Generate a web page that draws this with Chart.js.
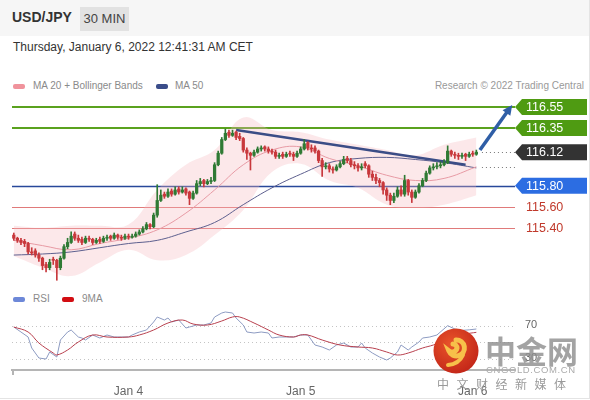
<!DOCTYPE html>
<html>
<head>
<meta charset="utf-8">
<script src="https://cdn.jsdelivr.net/npm/chart.js@4/dist/chart.umd.min.js"></script>
<style>
  html, body { margin: 0; padding: 0; background: #fff; }
  body { font-family: "Liberation Sans", Arial, sans-serif; }
  #frame { position: relative; width: 589px; height: 398px; border-right: 1px solid #e4e4e4; border-bottom: 1px solid #e4e4e4; overflow: hidden; }
  #head { position: absolute; left: 0; top: 0; width: 589px; height: 36px; background: #f6f6f6; }
  .abs { position: absolute; white-space: nowrap; }
  #pair { left: 12px; top: 9px; font-weight: bold; font-size: 14px; color: #333; }
  #tf { left: 80px; top: 7px; width: 49px; height: 24px; line-height: 24px; text-align: center; background: #e2e2e2; font-size: 13px; color: #444; }
  #stamp { left: 13px; top: 40px; font-size: 12px; color: #333; }
  .leg { font-size: 10px; color: #8a8a8a; }
  .sw { position: absolute; width: 12px; height: 5px; border-radius: 2px; }
  canvas { position: absolute; left: 0; }
  #mark { position: absolute; left: 433px; top: 328px; }
</style>
</head>
<body>
<div id="frame">
  <div id="head"></div>
  <div id="pair" class="abs">USD/JPY</div>
  <div id="tf" class="abs">30 MIN</div>
  <div id="stamp" class="abs">Thursday, January 6, 2022 12:41:31 AM CET</div>

  <div class="sw" style="left:13px;top:84px;background:#f0939c"></div>
  <div class="abs leg" style="left:33px;top:80px">MA 20 + Bollinger Bands</div>
  <div class="sw" style="left:156px;top:84px;background:#3a4d8a"></div>
  <div class="abs leg" style="left:175px;top:80px">MA 50</div>
  <div class="abs leg" style="right:5px;top:80px;color:#999">Research © 2022 Trading Central</div>

  <canvas id="main" width="590" height="190" style="top:95px"></canvas>

  <div class="sw" style="left:13px;top:297px;background:#6d88d8"></div>
  <div class="abs leg" style="left:33px;top:293px">RSI</div>
  <div class="sw" style="left:62px;top:297px;background:#d20d12"></div>
  <div class="abs leg" style="left:82px;top:293px">9MA</div>

  <canvas id="rsi" width="590" height="98" style="top:300px"></canvas>

  <svg id="mark" width="46" height="46" viewBox="0 0 46 46">
    <defs>
      <radialGradient id="g" cx="40%" cy="35%" r="70%">
        <stop offset="0" stop-color="#e9542a"/>
        <stop offset="1" stop-color="#c22518"/>
      </radialGradient>
    </defs>
    <circle cx="23" cy="23" r="22.5" fill="url(#g)"/>
    <path d="M23 12 a8 8 0 1 1 -7 11 a5 5 0 0 0 8 -3 a4 4 0 0 0 -4 -4" fill="none" stroke="#f7c04a" stroke-width="5" stroke-linecap="round"/>
    <path d="M30 27 q-4 9 -15 10" stroke="#f7c04a" stroke-width="4" fill="none" stroke-linecap="round"/>
  </svg>
  <div class="abs" style="left:485px;top:327px;font-family:'Noto Sans CJK SC';font-weight:bold;font-size:31px;color:rgba(140,140,140,0.8)">中金网</div>
  <div class="abs" style="left:486px;top:364px;font-size:9.5px;letter-spacing:0.6px;color:#aaa">CNGOLD.COM.CN</div>
  <div class="abs" style="left:437px;top:375px;font-family:'Noto Sans CJK SC';font-size:12px;letter-spacing:7.5px;color:#9a9a9a">中文财经新媒体</div>
</div>

<script>
// ===== DATA =====

// 30-min candles, Jan 3 08:00 .. Jan 6 00:30
const openPrices = [
  115.33, 115.30, 115.28, 115.27, 115.25, 115.17, 115.18, 115.14, 115.11, 115.05,
  115.02, 115.10, 115.09, 115.02, 115.11, 115.22, 115.26, 115.34, 115.30, 115.29,
  115.26, 115.30, 115.29, 115.26, 115.29, 115.27, 115.30, 115.32, 115.30, 115.33,
  115.31, 115.30, 115.32, 115.31, 115.32, 115.34, 115.36, 115.39, 115.43, 115.41,
  115.52, 115.66, 115.72, 115.70, 115.75, 115.72, 115.77, 115.74, 115.77, 115.74,
  115.68, 115.73, 115.82, 115.85, 115.82, 115.84, 115.85, 116.00, 116.11, 116.24,
  116.31, 116.28, 116.31, 116.27, 116.25, 116.14, 116.11, 116.09, 116.12, 116.15,
  116.17, 116.15, 116.13, 116.12, 116.08, 116.10, 116.08, 116.11, 116.10, 116.08,
  116.11, 116.15, 116.21, 116.16, 116.16, 116.13, 116.04, 115.98, 115.99, 115.96,
  115.95, 115.98, 116.01, 116.06, 116.04, 116.00, 115.99, 115.97, 116.01, 115.99,
  115.91, 115.88, 115.85, 115.83, 115.76, 115.71, 115.66, 115.70, 115.76, 115.72,
  115.85, 115.74, 115.69, 115.74, 115.80, 115.85, 115.92, 115.97, 115.98, 115.99,
  116.00, 116.02, 116.13, 116.10, 116.09, 116.08, 116.10, 116.08, 116.11, 116.10
];
const highPrices = [
  115.35, 115.31, 115.30, 115.29, 115.26, 115.21, 115.20, 115.16, 115.12, 115.07,
  115.10, 115.12, 115.10, 115.13, 115.24, 115.30, 115.36, 115.36, 115.33, 115.31,
  115.32, 115.32, 115.30, 115.30, 115.31, 115.32, 115.33, 115.33, 115.35, 115.34,
  115.33, 115.34, 115.34, 115.34, 115.36, 115.38, 115.41, 115.45, 115.44, 115.54,
  115.81, 115.76, 115.74, 115.77, 115.77, 115.79, 115.79, 115.79, 115.78, 115.75,
  115.75, 115.85, 115.87, 115.86, 115.86, 115.88, 116.02, 116.13, 116.26, 116.34,
  116.33, 116.33, 116.32, 116.30, 116.26, 116.16, 116.12, 116.14, 116.17, 116.18,
  116.18, 116.17, 116.15, 116.14, 116.11, 116.12, 116.12, 116.13, 116.12, 116.13,
  116.17, 116.24, 116.22, 116.19, 116.18, 116.14, 116.06, 116.02, 116.01, 115.98,
  116.00, 116.03, 116.08, 116.08, 116.06, 116.03, 116.01, 116.01, 116.03, 116.00,
  115.94, 115.91, 115.87, 115.84, 115.78, 115.73, 115.73, 115.79, 115.80, 115.90,
  115.86, 115.76, 115.76, 115.82, 115.87, 115.94, 115.99, 116.01, 116.02, 116.03,
  116.05, 116.18, 116.14, 116.12, 116.11, 116.11, 116.11, 116.12, 116.13, 116.14
];
const lowPrices = [
  115.28, 115.26, 115.24, 115.22, 115.15, 115.14, 115.12, 115.08, 115.00, 114.98,
  115.00, 115.05, 114.90, 115.00, 115.10, 115.20, 115.25, 115.28, 115.26, 115.24,
  115.25, 115.27, 115.24, 115.25, 115.25, 115.26, 115.28, 115.28, 115.29, 115.29,
  115.28, 115.29, 115.29, 115.30, 115.31, 115.33, 115.35, 115.38, 115.39, 115.40,
  115.50, 115.65, 115.68, 115.69, 115.70, 115.71, 115.72, 115.73, 115.71, 115.62,
  115.67, 115.72, 115.80, 115.79, 115.81, 115.82, 115.84, 115.99, 116.10, 116.23,
  116.26, 116.27, 116.24, 116.23, 116.12, 116.05, 115.95, 116.08, 116.11, 116.13,
  116.13, 116.11, 116.10, 116.06, 116.06, 116.06, 116.07, 116.08, 116.04, 116.07,
  116.10, 116.14, 116.14, 116.12, 116.11, 116.02, 115.89, 115.96, 115.93, 115.92,
  115.94, 115.97, 116.00, 116.02, 115.98, 115.96, 115.94, 115.95, 115.97, 115.88,
  115.85, 115.82, 115.79, 115.72, 115.66, 115.62, 115.64, 115.69, 115.70, 115.70,
  115.71, 115.64, 115.68, 115.73, 115.79, 115.84, 115.91, 115.95, 115.96, 115.97,
  115.99, 116.01, 116.08, 116.06, 116.05, 116.06, 116.04, 116.07, 116.08, 116.09
];
const closePrices = [
  115.30, 115.28, 115.26, 115.25, 115.17, 115.16, 115.14, 115.11, 115.04, 115.02,
  115.07, 115.09, 115.02, 115.11, 115.22, 115.26, 115.32, 115.30, 115.28, 115.26,
  115.30, 115.29, 115.26, 115.28, 115.27, 115.30, 115.31, 115.30, 115.33, 115.31,
  115.30, 115.32, 115.31, 115.32, 115.34, 115.36, 115.39, 115.43, 115.41, 115.52,
  115.66, 115.71, 115.70, 115.74, 115.72, 115.76, 115.74, 115.76, 115.73, 115.68,
  115.73, 115.82, 115.84, 115.82, 115.84, 115.85, 116.00, 116.11, 116.24, 116.30,
  116.28, 116.30, 116.26, 116.25, 116.14, 116.11, 116.09, 116.12, 116.15, 116.16,
  116.15, 116.13, 116.12, 116.08, 116.09, 116.08, 116.10, 116.10, 116.08, 116.11,
  116.15, 116.20, 116.16, 116.15, 116.13, 116.04, 115.98, 115.99, 115.96, 115.95,
  115.98, 116.01, 116.05, 116.04, 116.00, 115.99, 115.97, 115.98, 115.99, 115.91,
  115.88, 115.85, 115.83, 115.76, 115.71, 115.66, 115.70, 115.76, 115.72, 115.85,
  115.74, 115.69, 115.74, 115.80, 115.85, 115.92, 115.97, 115.98, 115.99, 116.00,
  116.02, 116.13, 116.10, 116.09, 116.08, 116.09, 116.08, 116.10, 116.10, 116.12
];

// indicator readings at selected candles
const bandIndex = [0, 8, 16, 24, 32, 40, 48, 56, 64, 72, 80, 88, 96, 104, 112, 120, 129];
const bandUpper = [115.42, 115.40, 115.42, 115.42, 115.43, 115.76, 116.00, 116.14, 116.45, 116.33, 116.31, 116.24, 116.19, 116.14, 116.09, 116.19, 116.26];
const bandLower = [115.13, 115.02, 114.94, 115.07, 115.19, 115.09, 115.14, 115.33, 115.57, 115.93, 116.01, 115.85, 115.78, 115.62, 115.59, 115.62, 115.71];
const ma20Values = [115.28, 115.23, 115.19, 115.25, 115.30, 115.38, 115.54, 115.76, 116.00, 116.14, 116.17, 116.06, 115.99, 115.90, 115.85, 115.87, 115.98];
const ma50Values = [115.14, 115.15, 115.17, 115.21, 115.25, 115.28, 115.36, 115.45, 115.62, 115.78, 115.91, 116.02, 116.06, 116.07, 116.05, 116.02, 115.97];

const trendIndex = [62, 126];
const trendValues = [116.33, 116.00];
const arrowFrom = [130, 116.14];
const arrowTo = [139, 116.57];

const levelValues = [116.55, 116.35, 116.12, 115.80, 115.60, 115.40];
const levelKinds = ["target", "target", "last", "pivot", "support", "support"];

// RSI panel
const rsiIndex = [0, 2, 4, 5, 7, 9, 10, 12, 13, 15, 16, 18, 19, 20, 22, 24, 26, 28, 30, 32,
  33, 35, 37, 39, 40, 42, 43, 44, 46, 48, 49, 51, 53, 55, 56, 58, 59, 61, 62, 64,
  65, 67, 69, 71, 72, 74, 76, 78, 80, 82, 84, 86, 88, 90, 92, 94, 96, 97, 98, 100,
  102, 104, 105, 107, 108, 110, 111, 113, 114, 116, 118, 121, 124, 127, 129];
const rsiValues = [68.4, 62.4, 56.4, 43.2, 31.2, 30, 38.4, 32.4, 52.8, 62.4, 64.8, 56.4, 55.2, 52.8, 58.8, 55.2, 58.8, 56.4, 56.4, 56.4,
  58.8, 62.4, 64.8, 74.4, 80.4, 76.8, 79.2, 74.4, 76.8, 67.2, 68.4, 70.8, 70.8, 73.2, 80.4, 85.2, 86.4, 85.2, 79.2, 70.8,
  62.4, 61.2, 62.4, 61.2, 55.2, 56.4, 56.4, 56.4, 58.8, 58.8, 46.8, 44.4, 40.8, 46.8, 49.2, 44.4, 44.4, 49.2, 43.2, 37.2,
  32.4, 28.8, 31.2, 38.4, 46.8, 40.8, 44.4, 50.4, 55.2, 56.4, 58.8, 70, 64, 65, 66];
const rsiMaIndex = [0, 4, 7, 11, 12, 15, 18, 22, 26, 32, 35, 39, 43, 47, 50, 54, 58, 61, 63, 67,
  71, 74, 78, 80, 82, 86, 91, 96, 100, 104, 107, 110, 114, 117, 122, 126, 129];
const rsiMaValues = [68.4, 62.4, 49.2, 37.2, 34.8, 40.8, 50.4, 58.8, 56.4, 56.4, 58.8, 64.8, 73.2, 76.8, 72, 70.8, 75.6, 80.4, 80.4, 73.2,
  64.8, 58.8, 56.4, 58.8, 58.8, 52.8, 46.8, 44.4, 43.2, 38.4, 34.8, 37.2, 43.2, 46.8, 55, 60, 62];
const rsiLevels = [70, 50, 30];
const rsiLevelLabels = ["70", "", "30"];

const tickIndex = [32, 80, 128];
const tickLabels = ["Jan 4", "Jan 5", "Jan 6"];

// ===== SETUP =====

const FONT = "'Liberation Sans', Arial, sans-serif";
Chart.defaults.font.family = FONT;
Chart.defaults.animation = false;
Chart.defaults.plugins.legend.display = false;
Chart.defaults.plugins.tooltip.enabled = false;

const slotCount = 140;
const slots = Array.from({ length: slotCount }, (_, i) => i);

function spread(idx, vals) {
  const out = new Array(slotCount).fill(null);
  idx.forEach((k, j) => { out[k] = vals[j]; });
  return out;
}

const GREEN = "#2f7a34";
const RED = "#c8383c";
const candleColors = closePrices.map((c, i) => (c >= openPrices[i] ? GREEN : RED));

function lineSet(data, color, width, order, extra) {
  return Object.assign({
    type: "line",
    data,
    borderColor: color,
    borderWidth: width,
    pointRadius: 0,
    spanGaps: true,
    fill: false,
    order
  }, extra || {});
}

//
// ===== OVERLAYS — LEVELS, TAGS, ARROW =====
//

function tag(ctx, xTip, yc, color, text) {
  const w = 72, h = 16;
  ctx.fillStyle = color;
  ctx.beginPath();
  ctx.moveTo(xTip, yc);
  ctx.lineTo(xTip + 7, yc - h / 2);
  ctx.lineTo(xTip + w, yc - h / 2);
  ctx.lineTo(xTip + w, yc + h / 2);
  ctx.lineTo(xTip + 7, yc + h / 2);
  ctx.closePath();
  ctx.fill();
  ctx.fillStyle = "#fff";
  ctx.font = "12.5px " + FONT;
  ctx.textBaseline = "middle";
  ctx.fillText(text, xTip + 11, yc + 0.5);
}

const levelStyle = {
  target: { line: "#5aa21e", width: 2, tag: "#4f9b12" },
  last: { line: null, width: 0, tag: "#333333" },
  pivot: { line: "#28489a", width: 1.5, tag: "#2c6de2" },
  support: { line: "#e07a7a", width: 1, tag: null }
};

const levelsPlugin = {
  id: "levels",
  beforeDatasetsDraw(chart) {
    const { ctx, chartArea, scales: { y } } = chart;
    ctx.save();
    levelValues.forEach((v, k) => {
      const st = levelStyle[levelKinds[k]];
      if (!st.line) return;
      const py = Math.round(y.getPixelForValue(v)) + (st.width === 2 ? 0 : 0.5);
      ctx.strokeStyle = st.line;
      ctx.lineWidth = st.width;
      ctx.beginPath();
      ctx.moveTo(chartArea.left, py);
      ctx.lineTo(chartArea.right + 1, py);
      ctx.stroke();
    });
    ctx.restore();
  },
  afterDraw(chart) {
    const { ctx, chartArea, scales: { x, y } } = chart;
    const xTip = chartArea.right + 1;
    ctx.save();

    // dotted guides from the last candle
    ctx.strokeStyle = "#777";
    ctx.lineWidth = 1;
    ctx.setLineDash([1, 3]);
    [closePrices[closePrices.length - 1], ma20Values[ma20Values.length - 1]].forEach(v => {
      const py = Math.round(y.getPixelForValue(v)) + 0.5;
      ctx.beginPath();
      ctx.moveTo(x.getPixelForValue(arrowFrom[0]) + 2, py);
      ctx.lineTo(xTip, py);
      ctx.stroke();
    });
    ctx.setLineDash([]);

    // forecast arrow
    const x0 = x.getPixelForValue(arrowFrom[0]), y0 = y.getPixelForValue(arrowFrom[1]);
    const x1 = x.getPixelForValue(arrowTo[0]), y1 = y.getPixelForValue(arrowTo[1]);
    const ang = Math.atan2(y1 - y0, x1 - x0);
    const head = 11;
    ctx.strokeStyle = "#2f5ea6";
    ctx.fillStyle = "#2f5ea6";
    ctx.lineWidth = 3.5;
    ctx.beginPath();
    ctx.moveTo(x0, y0);
    ctx.lineTo(x1 - Math.cos(ang) * head * 0.8, y1 - Math.sin(ang) * head * 0.8);
    ctx.stroke();
    ctx.beginPath();
    ctx.moveTo(x1, y1);
    ctx.lineTo(x1 - head * Math.cos(ang - 0.45), y1 - head * Math.sin(ang - 0.45));
    ctx.lineTo(x1 - head * Math.cos(ang + 0.45), y1 - head * Math.sin(ang + 0.45));
    ctx.closePath();
    ctx.fill();

    // price tags
    levelValues.forEach((v, k) => {
      const st = levelStyle[levelKinds[k]];
      const py = y.getPixelForValue(v);
      const text = v.toFixed(2);
      if (st.tag) {
        tag(ctx, xTip, py, st.tag, text);
      } else {
        ctx.fillStyle = "#c0392b";
        ctx.font = "12.5px " + FONT;
        ctx.textBaseline = "middle";
        ctx.fillText(text, xTip + 11, py + 0.5);
      }
    });
    ctx.restore();
  }
};

//
// ===== MAIN — CANDLES =====
//

new Chart(document.getElementById("main"), {
  type: "bar",
  data: {
    labels: slots,
    datasets: [
      {
        data: openPrices.map((o, i) => [o, closePrices[i]]),
        backgroundColor: candleColors,
        barThickness: 2.6,
        minBarLength: 1,
        grouped: false,
        order: 0
      },
      {
        data: lowPrices.map((l, i) => [l, highPrices[i]]),
        backgroundColor: candleColors,
        barThickness: 1,
        grouped: false,
        order: 1
      },
      lineSet(spread(trendIndex, trendValues), "#3b4d86", 2.5, 2),
      lineSet(spread(bandIndex, ma20Values), "#e79aa4", 1, 3, { tension: 0.4 }),
      lineSet(spread(bandIndex, ma50Values), "#5d5f8e", 1, 3, { tension: 0.4 }),
      lineSet(spread(bandIndex, bandUpper), "rgba(0,0,0,0)", 0, 5, {
        tension: 0.4, fill: "+1", backgroundColor: "rgba(247,185,190,0.32)"
      }),
      lineSet(spread(bandIndex, bandLower), "rgba(0,0,0,0)", 0, 5, { tension: 0.4 })
    ]
  },
  options: {
    responsive: false,
    devicePixelRatio: 1,
    layout: { padding: { left: 12, right: 76, top: 0, bottom: 0 } },
    scales: {
      x: { display: false, offset: true },
      y: { display: false, min: 114.8548, max: 116.6643 }
    }
  },
  plugins: [levelsPlugin]
});

//
// ===== RSI PANEL =====
//

const rsiGuides = {
  id: "rsiGuides",
  beforeDatasetsDraw(chart) {
    const { ctx, chartArea, scales: { y } } = chart;
    ctx.save();
    ctx.strokeStyle = "#c4c4c4";
    ctx.lineWidth = 1;
    ctx.setLineDash([1, 3]);
    rsiLevels.forEach(v => {
      const py = Math.round(y.getPixelForValue(v)) + 0.5;
      ctx.beginPath();
      ctx.moveTo(chartArea.left, py);
      ctx.lineTo(chartArea.right, py);
      ctx.stroke();
    });
    ctx.setLineDash([]);
    ctx.fillStyle = "#666";
    ctx.font = "11px " + FONT;
    ctx.textBaseline = "middle";
    rsiLevels.forEach((v, k) => {
      if (rsiLevelLabels[k]) ctx.fillText(rsiLevelLabels[k], chartArea.right + 11, y.getPixelForValue(v) - 1);
    });
    ctx.strokeStyle = "#b5b5b5";
    ctx.lineWidth = 2;
    ctx.beginPath();
    ctx.moveTo(chartArea.left + 1, chartArea.bottom);
    ctx.lineTo(chartArea.left + 1, chartArea.bottom + 5);
    ctx.stroke();
    ctx.restore();
  }
};

new Chart(document.getElementById("rsi"), {
  type: "line",
  data: {
    labels: slots,
    datasets: [
      lineSet(spread(rsiMaIndex, rsiMaValues), "#b8404e", 1, 0, { tension: 0.4 }),
      lineSet(spread(rsiIndex, rsiValues), "#8d9bc2", 1, 1)
    ]
  },
  options: {
    responsive: false,
    devicePixelRatio: 1,
    layout: { padding: { left: 12, right: 76, top: 5, bottom: 0 } },
    scales: {
      x: {
        offset: true,
        grid: { display: false },
        border: { display: true, color: "#b5b5b5", width: 2 },
        ticks: {
          autoSkip: false,
          maxRotation: 0,
          padding: 6,
          color: "#666",
          font: { size: 12 },
          callback: (val, idx) => {
            const k = tickIndex.indexOf(idx);
            return k >= 0 ? tickLabels[k] : null;
          }
        },
        afterFit: scale => { scale.height = 28; }
      },
      y: { display: false, min: 16.8, max: 94.8 }
    }
  },
  plugins: [rsiGuides]
});
</script>
</body>
</html>
